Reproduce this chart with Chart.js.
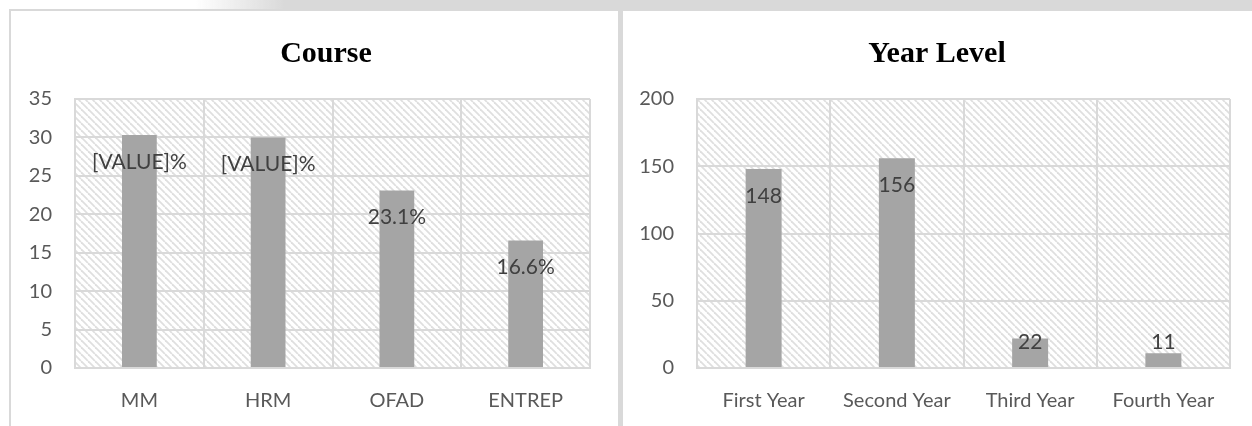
<!DOCTYPE html>
<html>
<head>
<meta charset="utf-8">
<script src="https://cdn.jsdelivr.net/npm/chart.js@4.4.1/dist/chart.umd.min.js"></script>
<style>
  html, body { margin: 0; padding: 0; background: #fff; }
  body { width: 1252px; height: 426px; position: relative; overflow: hidden; }
  #band {
    position: absolute; top: 0; left: 195px; width: 1057px; height: 9px;
    background: linear-gradient(to right, rgba(217,217,217,0), #d9d9d9 90px);
    filter: blur(0.6px);
  }
  .panel { position: absolute; top: 9px; height: 440px; box-sizing: border-box; border: 2px solid #d9d9d9; }
  #leftPanel { left: 9px; width: 611px; }
  #rightPanel { left: 620px; width: 660px; border-left-width: 3px; }
  .panel canvas { display: block; }
</style>
</head>
<body>
<div id="band"></div>
<div class="panel" id="leftPanel"><canvas id="courseChart" width="607" height="415"></canvas></div>
<div class="panel" id="rightPanel"><canvas id="yearChart" width="629" height="415"></canvas></div>

<script>
// Course share (%)
const courseLabels = ['MM', 'HRM', 'OFAD', 'ENTREP'];
const courseValues = [30.3, 30.0, 23.1, 16.6];
const courseText = ['[VALUE]%', '[VALUE]%', '23.1%', '16.6%'];

// Respondents per year level
const yearLabels = ['First Year', 'Second Year', 'Third Year', 'Fourth Year'];
const yearValues = [148, 156, 22, 11];

const tickFont = { family: 'Lato', size: 20 };
const gridColor = '#d9d9d9';
const barColor = '#a5a5a5';

// diagonal hatch used as the plot area background
function makeHatch() {
    const s = 7;
    const tile = document.createElement('canvas');
    tile.width = s; tile.height = s;
    const t = tile.getContext('2d');
    t.strokeStyle = '#dfdfdf';
    t.lineWidth = 1.8;
    for (const o of [-s, 0, s]) {
        t.beginPath();
        t.moveTo(o, 0);
        t.lineTo(o + s, s);
        t.stroke();
    }
    return t.createPattern(tile, 'repeat');
}

const hatchBackground = {
    id: 'hatchBackground',
    beforeDraw(chart) {
        const { ctx, chartArea: a } = chart;
        ctx.save();
        ctx.fillStyle = makeHatch();
        ctx.fillRect(a.left, a.top, a.right - a.left, a.bottom - a.top);
        ctx.restore();
    }
};

// heading text, centred on the given x of the canvas
const panelTitle = {
    id: 'panelTitle',
    afterDraw(chart, args, opts) {
        const { ctx } = chart;
        ctx.save();
        ctx.font = 'bold 30px "Liberation Serif"';
        ctx.fillStyle = '#000';
        ctx.textAlign = 'center';
        ctx.textBaseline = 'middle';
        ctx.fillText(opts.text, opts.x, opts.y);
        ctx.restore();
    }
};

// labels sit just inside the bar top; short bars push them up above
const barLabels = {
    id: 'barLabels',
    afterDatasetsDraw(chart, args, opts) {
        const { ctx } = chart;
        const meta = chart.getDatasetMeta(0);
        ctx.save();
        ctx.font = '21px Lato';
        ctx.fillStyle = '#404040';
        ctx.textAlign = 'center';
        ctx.textBaseline = 'middle';
        meta.data.forEach((bar, i) => {
            const y = Math.min(bar.y + 27, bar.base - 25);
            ctx.fillText(opts.text[i], bar.x, y);
        });
        ctx.restore();
    }
};

function makeChart(id, labels, values, text, title, titleX, max, step, rightPad, yWidth) {
    return new Chart(document.getElementById(id), {
        type: 'bar',
        data: {
            labels: labels,
            datasets: [{
                data: values,
                backgroundColor: barColor,
                barPercentage: 0.27,
                categoryPercentage: 1
            }]
        },
        options: {
            responsive: false,
            animation: false,
            layout: { padding: { left: 0, right: rightPad, top: 88, bottom: 0 } },
            plugins: {
                legend: { display: false },
                tooltip: { enabled: false },
                title: { display: false },
                panelTitle: { text: title, x: titleX, y: 43 },
                barLabels: { text: text }
            },
            scales: {
                x: {
                    grid: { color: gridColor, lineWidth: 2, drawTicks: false },
                    border: { color: gridColor, width: 2 },
                    ticks: { color: '#595959', font: tickFont, padding: 21 },
                    afterFit: s => { s.height = 58; }
                },
                y: {
                    min: 0,
                    max: max,
                    grid: { color: gridColor, lineWidth: 2, drawTicks: false },
                    border: { color: gridColor, width: 2 },
                    ticks: { stepSize: step, color: '#595959', font: tickFont, padding: 23 },
                    afterFit: s => { s.width = yWidth; }
                }
            }
        },
        plugins: [hatchBackground, barLabels, panelTitle]
    });
}

makeChart('courseChart', courseLabels, courseValues, courseText, 'Course', 315, 35, 5, 28, 64);
makeChart('yearChart', yearLabels, yearValues, yearValues.map(String), 'Year Level', 314, 200, 50, 22, 74);
</script>
</body>
</html>
